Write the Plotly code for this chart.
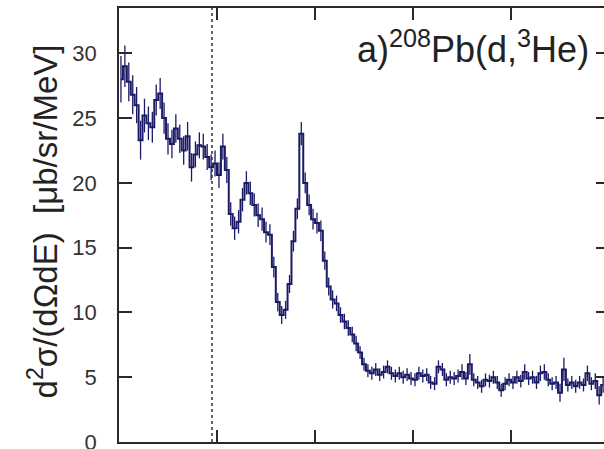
import numpy as np
import plotly.graph_objects as go

# Spectrum: cross section per energy bin with statistical errors
bin_start = 0.0
bin_width = 0.04
cross_section = [
    28.0, 29.0, 27.8, 26.8, 26.0, 23.3, 25.2, 24.6, 24.3, 26.4,
    26.9, 25.0, 23.4, 23.0, 24.2, 23.4, 22.5, 23.6, 21.2, 22.2,
    22.9, 22.8, 22.0, 21.2, 21.5, 20.6, 22.8, 21.0, 17.6, 16.5,
    17.0, 18.7, 20.0, 19.2, 18.3, 17.5, 17.2, 16.2, 16.0, 13.5,
    10.8, 9.8, 10.2, 12.2, 15.5, 18.0, 23.8, 20.0, 18.3, 17.2,
    16.9, 16.3, 14.0, 12.0, 11.0, 10.7, 9.8, 9.3, 8.8, 8.3,
    7.6, 6.9, 6.0, 5.5, 5.3, 5.6, 5.2, 5.4, 5.8, 5.3,
    5.1, 5.3, 5.0, 5.2, 4.9, 4.8, 5.3, 5.1, 5.2, 4.6,
    4.5, 5.8, 5.6, 4.8, 5.0, 4.9, 5.1, 5.4, 4.9, 6.0,
    4.8, 4.6, 4.3, 4.8, 4.7, 5.0, 4.6, 4.0, 4.5, 4.8,
    4.6, 5.0, 4.7, 5.4, 4.9, 5.0, 4.6, 5.3, 5.4, 4.8,
    4.5, 4.6, 3.8, 5.6, 4.4, 4.6, 4.3, 4.6, 4.4, 5.3,
    4.5, 4.7, 3.6, 4.4,
]
errors = [
    1.8, 1.6, 1.5, 1.5, 1.4, 1.5, 1.3, 1.3, 1.2, 1.2,
    1.2, 1.2, 1.2, 1.1, 1.1, 1.1, 1.1, 1.1, 1.1, 1.0,
    1.0, 1.0, 1.0, 1.0, 1.0, 1.0, 1.0, 1.0, 0.9, 0.9,
    0.9, 0.9, 0.9, 0.9, 0.9, 0.9, 0.9, 0.8, 0.8, 0.8,
    0.7, 0.7, 0.7, 0.7, 0.8, 0.8, 0.9, 0.8, 0.8, 0.8,
    0.8, 0.8, 0.7, 0.7, 0.7, 0.6, 0.6, 0.6, 0.6, 0.6,
    0.6, 0.5, 0.5, 0.5, 0.5, 0.5, 0.5, 0.5, 0.5, 0.5,
    0.5, 0.5, 0.5, 0.5, 0.5, 0.5, 0.5, 0.5, 0.5, 0.5,
    0.5, 0.5, 0.5, 0.5, 0.5, 0.5, 0.5, 0.6, 0.5, 0.8,
    0.5, 0.5, 0.5, 0.5, 0.5, 0.5, 0.5, 0.5, 0.5, 0.5,
    0.5, 0.5, 0.5, 0.6, 0.5, 0.5, 0.5, 0.6, 0.6, 0.5,
    0.5, 0.5, 0.7, 0.9, 0.5, 0.5, 0.5, 0.5, 0.5, 0.6,
    0.5, 0.6, 0.7, 0.6,
]
x_ticks = [1, 2, 3, 4]
y_ticks = [0, 5, 10, 15, 20, 25, 30]
threshold = 0.949

x_centres = bin_start + bin_width * (np.arange(len(cross_section)) + 0.5)

navy = "#1a1a66"
axis_col = "#2a2a2a"

fig = go.Figure()
fig.add_trace(go.Scatter(
    x=x_centres, y=cross_section, mode="lines",
    line=dict(color=navy, width=2, shape="hvh"),
    error_y=dict(type="data", array=errors, color=navy, thickness=1.3, width=0),
    showlegend=False, hoverinfo="skip",
))
# right-hand axis carries only inward ticks
fig.add_trace(go.Scatter(x=[None], y=[None], yaxis="y2", showlegend=False, hoverinfo="skip"))

fig.add_shape(type="line", xref="x", yref="paper", x0=threshold, x1=threshold, y0=0, y1=1,
              line=dict(color="#333333", width=1.5, dash="dot"))

fig.add_annotation(
    text="a)<sup>208</sup>Pb(d,<sup>3</sup>He)", xref="paper", yref="paper",
    x=0.974, y=0.91, xanchor="right", yanchor="middle", showarrow=False,
    font=dict(family="Liberation Sans, Arial, sans-serif", size=36, color="#222222"),
)
fig.add_annotation(
    text="d<sup>2</sup>σ/(dΩdE)  [μb/sr/MeV]", xref="paper", yref="paper",
    x=-0.157, y=0.508, xanchor="center", yanchor="middle", textangle=-90, showarrow=False,
    font=dict(family="Liberation Sans, Arial, sans-serif", size=33, color="#222222"),
)

fig.update_layout(
    width=604, height=449,
    margin=dict(l=119, r=0, t=8, b=7),
    paper_bgcolor="white", plot_bgcolor="white",
    font=dict(family="Liberation Sans, Arial, sans-serif", color="#333333"),
    xaxis=dict(
        range=[0, 4.949], tickvals=x_ticks, showticklabels=False, automargin=False,
        ticks="inside", ticklen=12, tickwidth=1.5, tickcolor=axis_col,
        showline=True, linecolor=axis_col, linewidth=1.5, mirror="ticks",
        showgrid=False, zeroline=False,
    ),
    yaxis=dict(
        range=[0, 33.5], tickvals=y_ticks, automargin=False,
        ticks="inside", ticklen=13, tickwidth=1.5, tickcolor=axis_col,
        showline=True, linecolor=axis_col, linewidth=1.5,
        showgrid=False, zeroline=False, ticklabeloverflow="allow",
        tickfont=dict(size=22, color="#333333"), ticklabelstandoff=16,
    ),
    yaxis2=dict(
        overlaying="y", side="right", range=[0, 33.5], tickvals=y_ticks, automargin=False,
        ticks="inside", ticklen=8, tickwidth=1.5, tickcolor=axis_col,
        showline=False, showticklabels=False, showgrid=False, zeroline=False,
    ),
)

fig.write_html("out.html")
